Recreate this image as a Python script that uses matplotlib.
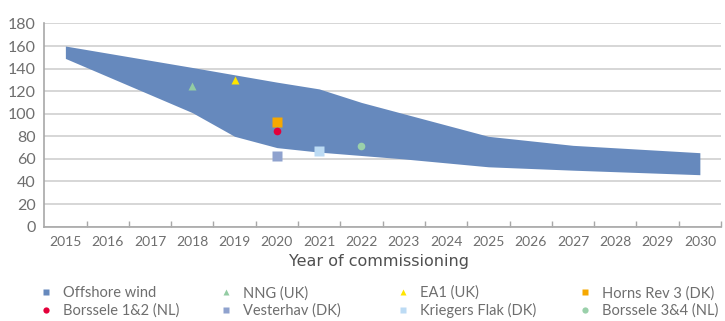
import matplotlib.pyplot as plt
import numpy as np

plt.rcParams['font.family'] = ['Lato', 'DejaVu Sans']

years = list(range(2015, 2031))

# offshore wind range (EUR/MWh), at year of commissioning
band_years = [2015, 2018, 2019, 2020, 2021, 2022, 2023, 2025, 2027, 2030]
band_high = [160, 141, 134.5, 128, 122, 110, 100, 80, 72, 65.5]
band_low = [149, 101, 80, 70, 66, 63, 60, 53, 50, 46]

# individual projects
proj_names = ['NNG (UK)', 'EA1 (UK)', 'Horns Rev 3 (DK)', 'Borssele 1&2 (NL)',
              'Vesterhav (DK)', 'Kriegers Flak (DK)', 'Borssele 3&4 (NL)']
proj_years = [2018, 2019, 2020, 2020, 2020, 2021, 2022]
proj_values = [125, 130, 93, 85, 63, 67, 71]
proj_markers = ['^', '^', 's', 'o', 's', 's', 'o']
proj_colors = ['#93CCA3', '#FFE500', '#F6A800', '#E4003A', '#8FA2CE', '#BCDBF4', '#9AD0AA']

band_color = '#6689BD'
grey = '#A8A8A8'
txt = '#6E6E6E'

fig = plt.figure(figsize=(7.25, 3.21), dpi=100)
ax = fig.add_axes([0.061, 0.294, 0.9335, 0.633])

bx = [years.index(y) for y in band_years]
ax.fill_between(bx, band_low, band_high, color=band_color, lw=0, zorder=2)

sizes = {'s': 6.5, 'o': 5.5, '^': 5.8}
for name, y, v, m, c in zip(proj_names, proj_years, proj_values, proj_markers, proj_colors):
    ax.plot(years.index(y), v, m, color=c, ms=sizes[m], mec='none', zorder=3)

ax.set_xlim(-0.5, len(years) - 0.5)
ax.set_ylim(0, 180)
ax.set_yticks(range(0, 181, 20))
ax.yaxis.grid(True, color='#D0D0D0', lw=1.2, zorder=0)
ax.set_axisbelow(True)

# category axis: labels centred, ticks on the boundaries
ax.set_xticks(range(len(years)))
ax.set_xticklabels([str(y) for y in years])
ax.set_xticks(np.arange(0.5, len(years), 1), minor=True)
ax.tick_params(axis='x', which='major', length=0, pad=7, labelsize=10, labelcolor=txt)
ax.tick_params(axis='x', which='minor', direction='in', length=4, color=grey, width=1)
ax.tick_params(axis='y', length=0, pad=6, labelsize=11.5, labelcolor=txt)

for s in ['top', 'right']:
    ax.spines[s].set_visible(False)
for s in ['left', 'bottom']:
    ax.spines[s].set_color(grey)
    ax.spines[s].set_linewidth(1.2)

ax.set_xlabel('Year of commissioning', fontsize=11.5, color='#505050',
              family=['DejaVu Sans'])
ax.xaxis.set_label_coords(0.495, -0.172)
ax.xaxis.label.set_va('center')

handles = [plt.Line2D([], [], ls='none', marker='s', color=band_color, ms=4.8, mec='none')]
labels = ['Offshore wind']
for name, m, c in zip(proj_names, proj_markers, proj_colors):
    handles.append(plt.Line2D([], [], ls='none', marker=m, color=c, ms=4.5, mec='none'))
    labels.append(name)

# legend: 4 columns of 2 rows, each column its own legend
col_x = [0.0555, 0.3037, 0.5479, 0.7989]
for k in range(4):
    idx = [k, k + 4]
    leg = fig.legend([handles[i] for i in idx], [labels[i] for i in idx],
                     loc='center left', bbox_to_anchor=(col_x[k], 0.0592), frameon=False,
                     fontsize=10.5, handlelength=0.8, handletextpad=0.76,
                     labelspacing=0.2, borderpad=0, borderaxespad=0)
    for t in leg.get_texts():
        t.set_color(txt)

fig.savefig('out.png', dpi=100)
